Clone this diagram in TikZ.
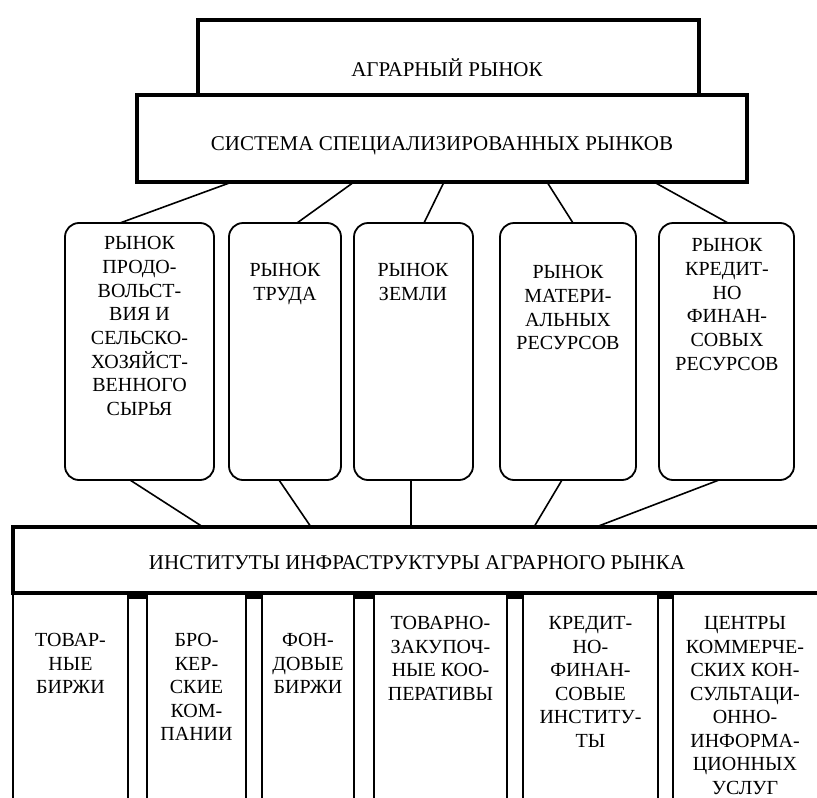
\documentclass[tikz,border=0pt]{standalone}
\usepackage{fontspec}
\setmainfont{Liberation Serif}
\usetikzlibrary{calc}
\begin{document}
\begin{tikzpicture}[x=1pt,y=-1pt,
  every node/.style={inner sep=0pt,outer sep=0pt},
  heavybox/.style={draw,line width=4.5pt,rectangle},
  roundbox/.style={draw,line width=1.8pt,rectangle,rounded corners=14pt,minimum height=257pt},
  colbox/.style={draw,line width=1.8pt,rectangle,minimum height=217pt},
  conn/.style={line width=1.6pt},
  txt/.style={align=center,font=\fontsize{20}{23.7}\selectfont},
  bigtxt/.style={align=center,font=\fontsize{21}{24}\selectfont},
  ctxt/.style={align=center,font=\fontsize{20}{23.5}\selectfont},
  gapfill/.style={fill=black,draw=none}]
\useasboundingbox (0,0) rectangle (817,798);
\clip (0,0) rectangle (817,798);
% top boxes
\node[heavybox,minimum width=610pt,minimum height=87pt] (sys) at (442,138.5) {};
\node[heavybox,minimum width=501pt,minimum height=75pt] (agr) at (448.5,57.5) {};
\node[bigtxt,anchor=base] (agrt) at (447,76) {АГРАРНЫЙ РЫНОК};
\node[bigtxt,anchor=base] (syst) at (442,150) {СИСТЕМА СПЕЦИАЛИЗИРОВАННЫХ РЫНКОВ};
% rounded boxes
\node[roundbox,minimum width=149pt] (b1) at (139.5,351.5) {};
\node[roundbox,minimum width=112pt] (b2) at (285,351.5) {};
\node[roundbox,minimum width=119pt] (b3) at (413.5,351.5) {};
\node[roundbox,minimum width=136pt] (b4) at (568,351.5) {};
\node[roundbox,minimum width=135pt] (b5) at (726.5,351.5) {};
\node[txt,anchor=north] (t1) at (139.5,236.5) {РЫНОК\\ПРОДО-\\ВОЛЬСТ-\\ВИЯ И\\СЕЛЬСКО-\\ХОЗЯЙСТ-\\ВЕННОГО\\СЫРЬЯ};
\node[txt,anchor=north] (t2) at (285,263.5) {РЫНОК\\ТРУДА};
\node[txt,anchor=north] (t3) at (413,263.5) {РЫНОК\\ЗЕМЛИ};
\node[txt,anchor=north] (t4) at (568,265.5) {РЫНОК\\МАТЕРИ-\\АЛЬНЫХ\\РЕСУРСОВ};
\node[txt,anchor=north] (t5) at (727,238.5) {РЫНОК\\КРЕДИТ-\\НО\\ФИНАН-\\СОВЫХ\\РЕСУРСОВ};
% institutes bar
\node[heavybox,minimum width=827pt,minimum height=66pt] (bar) at (426.5,560) {};
\node[bigtxt,anchor=base] (bart) at (417,569) {ИНСТИТУТЫ ИНФРАСТРУКТУРЫ АГРАРНОГО РЫНКА};
% columns
\node[colbox,minimum width=115pt] (c1) at (70.5,701.5) {};
\node[colbox,minimum width=99pt] (c2) at (196.5,701.5) {};
\node[colbox,minimum width=92pt] (c3) at (308,701.5) {};
\node[colbox,minimum width=133pt] (c4) at (440.5,701.5) {};
\node[colbox,minimum width=135pt] (c5) at (590.5,701.5) {};
\node[colbox,minimum width=157pt] (c6) at (751.5,701.5) {};
\fill[gapfill] (c1.north east) rectangle ([yshift=-6pt]c2.north west);
\fill[gapfill] (c2.north east) rectangle ([yshift=-6pt]c3.north west);
\fill[gapfill] (c3.north east) rectangle ([yshift=-6pt]c4.north west);
\fill[gapfill] (c4.north east) rectangle ([yshift=-6pt]c5.north west);
\fill[gapfill] (c5.north east) rectangle ([yshift=-6pt]c6.north west);
\draw[line width=4.5pt] (bar.south west) -- (bar.south east);
\node[ctxt,anchor=north] (ct1) at (70.5,633.5) {ТОВАР-\\НЫЕ\\БИРЖИ};
\node[ctxt,anchor=north] (ct2) at (196.5,633.5) {БРО-\\КЕР-\\СКИЕ\\КОМ-\\ПАНИИ};
\node[ctxt,anchor=north] (ct3) at (308,633.5) {ФОН-\\ДОВЫЕ\\БИРЖИ};
\node[ctxt,anchor=north] (ct4) at (440.5,616.5) {ТОВАРНО-\\ЗАКУПОЧ-\\НЫЕ КОО-\\ПЕРАТИВЫ};
\node[ctxt,anchor=north] (ct5) at (590.5,616.5) {КРЕДИТ-\\НО-\\ФИНАН-\\СОВЫЕ\\ИНСТИТУ-\\ТЫ};
\node[ctxt,anchor=north] (ct6) at (745,616.5) {ЦЕНТРЫ\\КОММЕРЧЕ-\\СКИХ КОН-\\СУЛЬТАЦИ-\\ОННО-\\ИНФОРМА-\\ЦИОННЫХ\\УСЛУГ};
% connectors top
\draw[conn] ([xshift=95pt]sys.south west) -- ([xshift=55pt]b1.north west);
\draw[conn] ([xshift=217pt]sys.south west) -- ([xshift=68pt]b2.north west);
\draw[conn] ([xshift=307pt]sys.south west) -- ([xshift=70pt]b3.north west);
\draw[conn] ([xshift=410pt]sys.south west) -- ([xshift=73pt]b4.north west);
\draw[conn] ([xshift=517pt]sys.south west) -- ([xshift=69pt]b5.north west);
% connectors bottom
\draw[conn] ([xshift=65pt]b1.south west) -- ([xshift=190pt]bar.north west);
\draw[conn] ([xshift=50pt]b2.south west) -- ([xshift=298pt]bar.north west);
\draw[conn] ([xshift=57pt]b3.south west) -- ([xshift=398pt]bar.north west);
\draw[conn] ([xshift=62pt]b4.south west) -- ([xshift=521pt]bar.north west);
\draw[conn] ([xshift=60pt]b5.south west) -- ([xshift=583pt]bar.north west);
\end{tikzpicture}
\end{document}
